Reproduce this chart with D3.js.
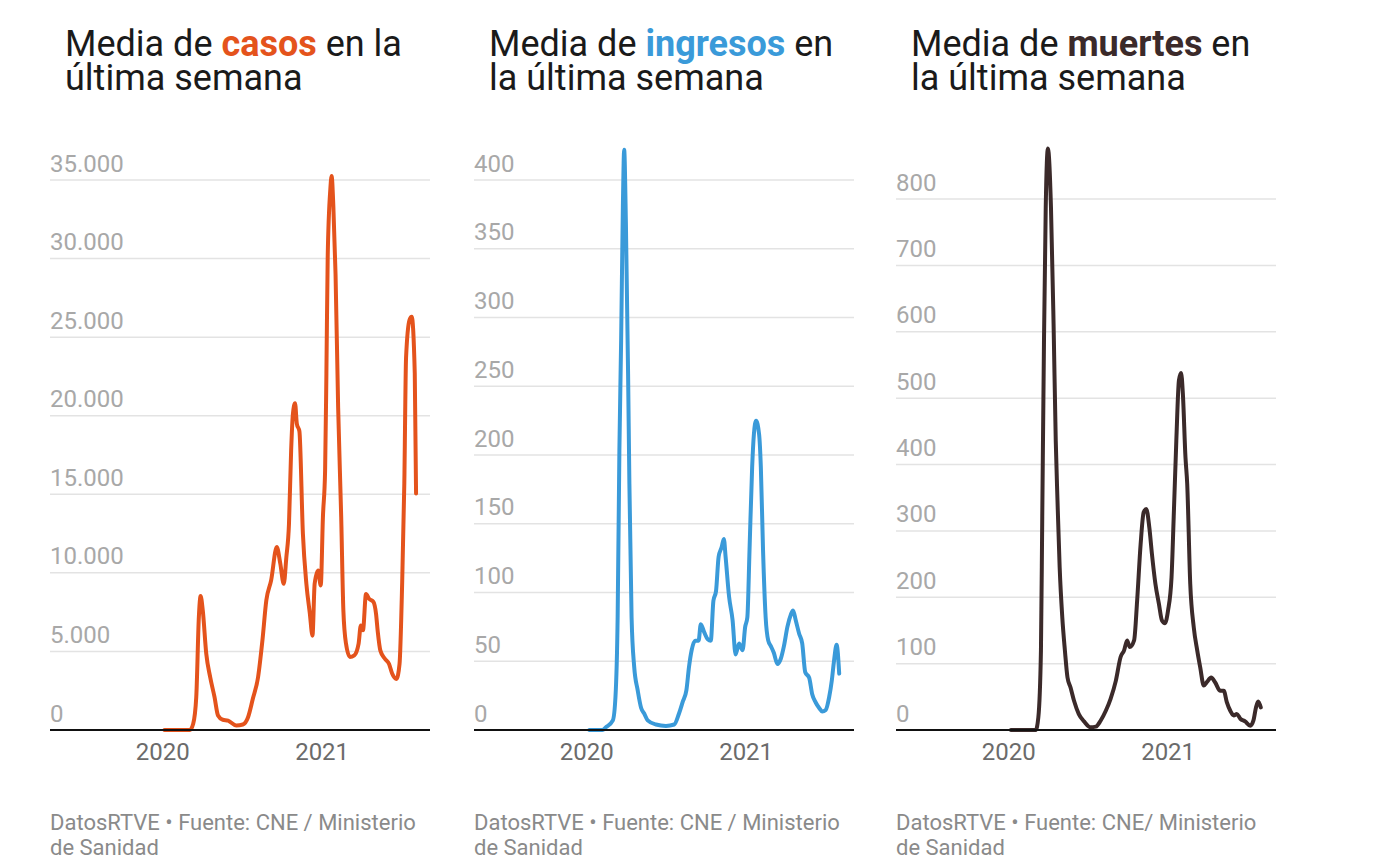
<!DOCTYPE html>
<html>
<head>
<meta charset="utf-8">
<script src="https://cdn.jsdelivr.net/npm/d3@7"></script>
<style>
  body { margin: 0; background: #fff; }
  svg { font-family: Roboto, "Noto Sans", sans-serif; }
</style>
</head>
<body>
<script>
// valores (media de 7 días)
var casos = [
  ["2020-01-06",0],["2020-03-04",0],["2020-03-12",400],["2020-03-19",2090],["2020-03-25",7200],
  ["2020-03-29",8520],["2020-04-03",7600],["2020-04-11",4850],["2020-04-20",3360],["2020-04-30",2090],
  ["2020-05-08",925],["2020-05-19",650],["2020-05-31",600],["2020-06-19",290],["2020-07-04",350],
  ["2020-07-16",815],["2020-07-27",1985],["2020-08-08",3360],["2020-08-18",5700],["2020-08-27",8250],
  ["2020-09-07",9520],["2020-09-20",11650],["2020-09-28",10600],["2020-10-06",9300],["2020-10-12",11000],
  ["2020-10-18",13100],["2020-10-23",17800],["2020-10-27",20100],["2020-11-01",20800],["2020-11-05",19500],
  ["2020-11-11",19000],["2020-11-19",12500],["2020-11-27",9300],["2020-12-05",7400],["2020-12-11",6000],
  ["2020-12-16",9300],["2020-12-24",10150],["2020-12-30",9200],["2021-01-04",13550],["2021-01-09",16500],
  ["2021-01-12",22700],["2021-01-15",30100],["2021-01-21",34400],["2021-01-24",35250],["2021-01-28",33300],
  ["2021-02-02",29000],["2021-02-08",20500],["2021-02-15",13550],["2021-02-20",7600],["2021-02-26",5500],
  ["2021-03-07",4650],["2021-03-17",4750],["2021-03-27",5500],["2021-04-01",6650],["2021-04-06",6350],
  ["2021-04-13",8650],["2021-04-20",8350],["2021-04-30",8150],["2021-05-06",7400],["2021-05-10",6250],
  ["2021-05-16",5050],["2021-05-26",4550],["2021-06-05",4200],["2021-06-12",3600],["2021-06-22",3250],
  ["2021-06-29",4200],["2021-07-05",9300],["2021-07-10",15700],["2021-07-14",23700],["2021-07-22",26100],
  ["2021-07-27",26300],["2021-08-03",22700],["2021-08-06",15050]
];

var ingresos = [
  ["2020-01-08",0],["2020-02-07",0],["2020-02-15",2],["2020-03-02",7],["2020-03-08",24],
  ["2020-03-13",82],["2020-03-17",203],["2020-03-21",283],["2020-03-25",380],["2020-03-28",422],
  ["2020-04-01",368],["2020-04-06",259],["2020-04-09",179],["2020-04-14",82],["2020-04-20",46],
  ["2020-04-28",29],["2020-05-06",16],["2020-05-13",12],["2020-05-21",7],["2020-06-09",4],
  ["2020-07-02",3],["2020-07-21",4],["2020-08-01",12],["2020-08-10",21],["2020-08-18",29],
  ["2020-08-24",46],["2020-08-30",58],["2020-09-07",65],["2020-09-15",65],["2020-09-20",77],
  ["2020-09-28",71],["2020-10-06",66],["2020-10-13",65],["2020-10-19",94],["2020-10-25",101],
  ["2020-10-31",126],["2020-11-07",133],["2020-11-12",139],["2020-11-16",126],["2020-11-24",97],
  ["2020-12-02",80],["2020-12-09",55],["2020-12-17",63],["2020-12-25",58],["2020-12-31",75],
  ["2021-01-05",82],["2021-01-10",131],["2021-01-16",191],["2021-01-20",215],["2021-01-25",225],
  ["2021-02-01",215],["2021-02-05",191],["2021-02-10",131],["2021-02-16",82],["2021-02-22",65],
  ["2021-02-28",61],["2021-03-07",56],["2021-03-15",48],["2021-03-23",52],["2021-03-30",61],
  ["2021-04-07",75],["2021-04-15",84],["2021-04-20",87],["2021-04-26",80],["2021-05-04",70],
  ["2021-05-11",63],["2021-05-18",42],["2021-05-27",38],["2021-06-03",26],["2021-06-11",20],
  ["2021-06-19",16],["2021-06-26",13.5],["2021-07-04",14.6],["2021-07-12",24],["2021-07-18",36],
  ["2021-07-23",50],["2021-07-29",62],["2021-08-04",41]
];

var muertes = [
  ["2020-01-07",0],["2020-03-04",0],["2020-03-10",19],["2020-03-16",120],["2020-03-19",321],
  ["2020-03-23",587],["2020-03-27",788],["2020-04-01",876],["2020-04-08",788],["2020-04-14",612],
  ["2020-04-19",436],["2020-04-23",346],["2020-04-28",245],["2020-05-04",170],["2020-05-10",120],
  ["2020-05-16",79],["2020-05-23",64],["2020-05-31",44],["2020-06-11",24],["2020-06-23",13],
  ["2020-07-08",4],["2020-07-20",5],["2020-07-31",14],["2020-08-12",29],["2020-08-23",47],
  ["2020-09-04",74],["2020-09-15",110],["2020-09-23",120],["2020-09-30",135],["2020-10-06",125],
  ["2020-10-16",135],["2020-10-23",195],["2020-10-31",280],["2020-11-07",328],["2020-11-13",333],
  ["2020-11-20",305],["2020-11-26",265],["2020-12-04",220],["2020-12-12",190],["2020-12-19",165],
  ["2020-12-26",161],["2021-01-02",180],["2021-01-10",230],["2021-01-15",321],["2021-01-21",436],
  ["2021-01-27",527],["2021-02-01",538],["2021-02-05",507],["2021-02-11",411],["2021-02-15",371],
  ["2021-02-22",220],["2021-03-02",155],["2021-03-10",120],["2021-03-17",94],["2021-03-25",67],
  ["2021-04-01",72],["2021-04-11",79],["2021-04-20",72],["2021-05-02",59],["2021-05-10",59],
  ["2021-05-17",42],["2021-05-25",29],["2021-06-02",22],["2021-06-09",24],["2021-06-17",17],
  ["2021-06-28",13],["2021-07-10",6.5],["2021-07-17",14],["2021-07-23",34],["2021-07-28",43],
  ["2021-08-03",34]
];

var ticksCasos = [0, 5000, 10000, 15000, 20000, 25000, 30000, 35000];
var ticksIngresos = [0, 50, 100, 150, 200, 250, 300, 350, 400];
var ticksMuertes = [0, 100, 200, 300, 400, 500, 600, 700, 800];
var years = ["2020-01-01", "2021-01-01"];

var panels = [
  { data: casos, ticks: ticksCasos, top: 180, color: "#e4531c",
    title: [["Media de ", "casos", " en la"], ["última semana"]],
    source: ["DatosRTVE • Fuente: CNE / Ministerio", "de Sanidad"] },
  { data: ingresos, ticks: ticksIngresos, top: 180, color: "#3a9ad9",
    title: [["Media de ", "ingresos", " en"], ["la última semana"]],
    source: ["DatosRTVE • Fuente: CNE / Ministerio", "de Sanidad"] },
  { data: muertes, ticks: ticksMuertes, top: 199, color: "#3b2a2a",
    title: [["Media de ", "muertes", " en"], ["la última semana"]],
    source: ["DatosRTVE • Fuente: CNE/ Ministerio", "de Sanidad"] }
];

var width = 1396, height = 858;
var lefts = [50, 474, 896], plotW = 380, base = 730;

var es = d3.formatLocale({ decimal: ",", thousands: ".", grouping: [3], currency: ["", "€"] });
var fmt = es.format(",d");
var parse = d3.timeParse("%Y-%m-%d");

var svg = d3.select("body").append("svg")
    .attr("width", width)
    .attr("height", height);

panels.forEach(function(p, i) {
    var g = svg.append("g").attr("transform", "translate(" + lefts[i] + ",0)");

    var x = d3.scaleTime()
        .domain([parse("2019-04-18"), parse("2021-09-07")])
        .range([0, plotW]);

    var maxTick = p.ticks[p.ticks.length - 1];
    var y = d3.scaleLinear()
        .domain([0, maxTick])
        .range([base, p.top]);

    // title
    var t = g.append("text").attr("x", 15).attr("y", 56)
        .style("font-size", "36px").style("fill", "#1a1a1a");
    p.title.forEach(function(line, li) {
        line.forEach(function(part, pi) {
            var ts = t.append("tspan").text(part);
            if (pi == 0) ts.attr("x", 15).attr("dy", li == 0 ? 0 : 34);
            if (pi == 1) ts.style("font-weight", "bold").style("fill", p.color);
        });
    });

    // grid + y labels
    var yAxis = g.append("g").attr("class", "y");
    yAxis.selectAll("line")
        .data(p.ticks.filter(function(d) { return d > 0; }))
        .enter().append("line")
        .attr("x1", 0).attr("x2", plotW)
        .attr("y1", function(d) { return y(d); })
        .attr("y2", function(d) { return y(d); })
        .style("stroke", "#e3e3e3").style("stroke-width", 1.5);
    yAxis.selectAll("text")
        .data(p.ticks)
        .enter().append("text")
        .attr("x", 0)
        .attr("y", function(d) { return y(d) - 8.5; })
        .style("font-size", "24px").style("fill", "#a8a8a8")
        .text(function(d) { return fmt(d); });

    // x axis
    var xAxis = g.append("g")
        .attr("transform", "translate(0," + base + ")")
        .call(d3.axisBottom(x)
            .tickValues(years.map(parse))
            .tickSize(0)
            .tickPadding(13)
            .tickFormat(d3.timeFormat("%Y")));
    xAxis.select(".domain").remove();
    xAxis.selectAll("text")
        .style("font-size", "24px").style("fill", "#6b6b6b")
        .style("font-family", "Roboto, sans-serif");

    var line = d3.line()
        .x(function(d) { return x(parse(d[0])); })
        .y(function(d) { return y(d[1]); })
        .curve(d3.curveMonotoneX);

    g.append("path")
        .datum(p.data)
        .attr("d", line)
        .style("fill", "none")
        .style("stroke", p.color)
        .style("stroke-width", 4)
        .style("stroke-linejoin", "round")
        .style("stroke-linecap", "round");

    g.append("line")
        .attr("x1", 0).attr("x2", plotW)
        .attr("y1", base).attr("y2", base)
        .style("stroke", "#111").style("stroke-width", 2);

    // source
    g.selectAll(".src")
        .data(p.source)
        .enter().append("text")
        .attr("class", "src")
        .attr("x", 0)
        .attr("y", function(d, k) { return 830 + k * 25; })
        .style("font-size", "22px").style("fill", "#8a8a8a")
        .text(function(d) { return d; });
});
</script>
</body>
</html>
